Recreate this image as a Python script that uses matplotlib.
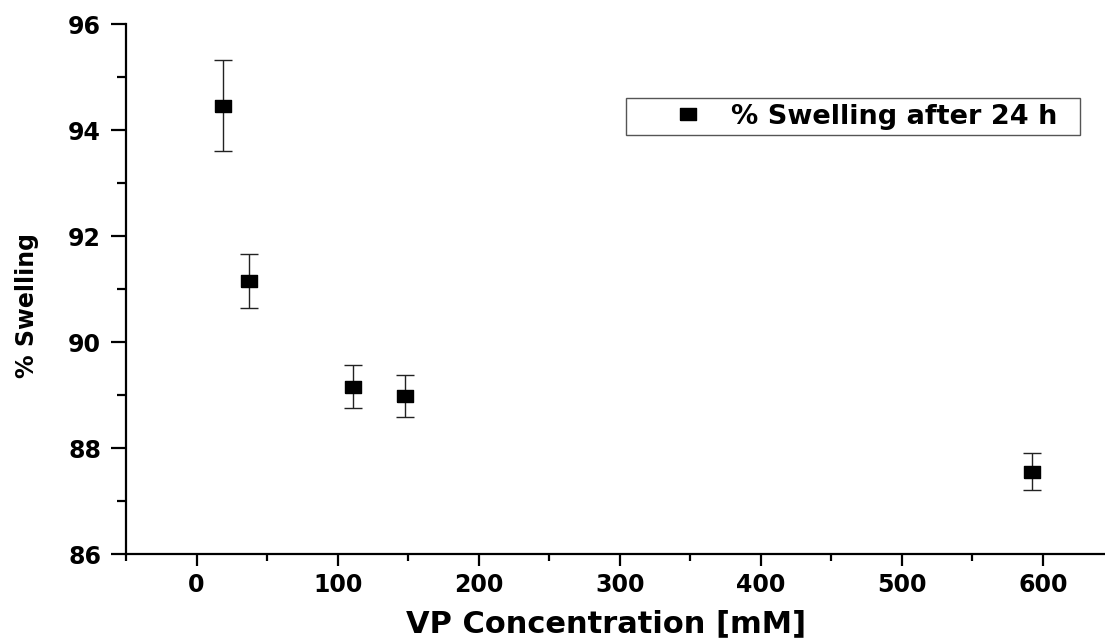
import matplotlib
matplotlib.use("Agg")
import matplotlib.pyplot as plt
from matplotlib.ticker import MultipleLocator
from matplotlib.patches import Rectangle

# Data
vp_conc = [18.7, 37, 111, 148, 592]
swelling = [94.46, 91.16, 89.16, 88.98, 87.55]
swelling_err = [0.86, 0.51, 0.41, 0.40, 0.35]
series_label = "% Swelling after 24 h"
x_label = "VP Concentration [mM]"
y_label = "% Swelling"

W, H = 1105, 639
fig = plt.figure(figsize=(W / 100, H / 100), dpi=100)

ax_left, ax_right = 126, 1113.5
ax_top, ax_bottom = 24.3, 554
ax = fig.add_axes([ax_left / W, 1 - ax_bottom / H, (ax_right - ax_left) / W, (ax_bottom - ax_top) / H])

# horizontally stretched square marker (as in the reference)
rect = [(-1.0, -0.75), (1.0, -0.75), (1.0, 0.75), (-1.0, 0.75), (-1.0, -0.75)]

ax.errorbar(vp_conc, swelling, yerr=swelling_err, fmt='none', ecolor='#222222',
            elinewidth=1.0, capsize=6.4, capthick=1.0, zorder=2)
ax.plot(vp_conc, swelling, linestyle='none', marker=rect, markersize=11.5,
        color='black', label=series_label, zorder=3)

ax.set_xlim(-50, 650)
ax.set_ylim(86, 96)
ax.xaxis.set_major_locator(MultipleLocator(100))
ax.xaxis.set_minor_locator(MultipleLocator(50))
ax.yaxis.set_major_locator(MultipleLocator(2))
ax.yaxis.set_minor_locator(MultipleLocator(1))

for s in ['top', 'right']:
    ax.spines[s].set_visible(False)
for s in ['left', 'bottom']:
    ax.spines[s].set_linewidth(1.6)

ax.tick_params(axis='x', which='major', direction='out', length=8.5, width=1.6,
               labelsize=17, pad=5)
ax.tick_params(axis='x', which='minor', direction='out', length=4.8, width=1.6)
ax.tick_params(axis='y', which='major', direction='out', length=11, width=1.6,
               labelsize=17, pad=7)
ax.tick_params(axis='y', which='minor', direction='out', length=6.5, width=1.6)
for lab in ax.get_xticklabels() + ax.get_yticklabels():
    lab.set_fontweight('bold')
    lab.set_fontfamily('DejaVu Sans')

fig.text(606 / W, 1 - 624 / H, x_label, ha='center', va='center',
         fontsize=22, fontweight='bold', family='DejaVu Sans')
fig.text(27 / W, 1 - 306 / H, y_label, ha='center', va='center', rotation=90,
         fontsize=17, fontweight='bold', family='DejaVu Sans')

# legend (frame drawn separately to match the reference box)
leg = ax.legend(loc='center left', bbox_to_anchor=(674 / W, 1 - 116.5 / H),
                bbox_transform=fig.transFigure,
                prop={'family': 'DejaVu Sans', 'weight': 'bold', 'size': 19.5},
                frameon=False, borderpad=0, handlelength=1.0, handletextpad=1.09,
                borderaxespad=0, markerscale=0.95)
fig.patches.append(Rectangle((626 / W, 1 - 135 / H), (1080 - 626) / W, (135 - 98) / H,
                             transform=fig.transFigure, facecolor='none',
                             edgecolor='#555555', linewidth=1.0, zorder=5))

fig.savefig('out.png', dpi=100)
